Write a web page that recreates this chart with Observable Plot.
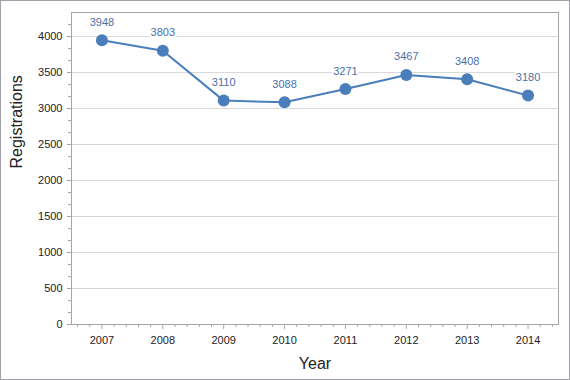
<!DOCTYPE html>
<html>
<head>
<meta charset="utf-8">
<script src="https://cdn.jsdelivr.net/npm/d3@7"></script>
<script src="https://cdn.jsdelivr.net/npm/@observablehq/plot@0.6"></script>
<style>
  body { margin: 0; background: #fff; }
  #chart { width: 570px; height: 380px; }
</style>
</head>
<body>
<div id="chart"></div>
<script>
const years = [2007, 2008, 2009, 2010, 2011, 2012, 2013, 2014];
const registrations = [3948, 3803, 3110, 3088, 3271, 3467, 3408, 3180];
const yTicks = [0, 500, 1000, 1500, 2000, 2500, 3000, 3500, 4000];

const data = years.map((y, i) => ({year: y, value: registrations[i]}));
const yMinor = d3.range(0, 4300, 500 / 3);
const xMinor = d3.range(2006.6, 2014.5, 0.2).filter(v => Math.abs(v - Math.round(v)) > 0.05);

const lineColor = "#4a7ebb";
const textColor = "#222";
const font = "Liberation Sans, Arial, sans-serif";

const plot = Plot.plot({
  width: 570,
  height: 380,
  marginLeft: 71,
  marginRight: 12,
  marginTop: 12,
  marginBottom: 56,
  style: {fontFamily: font, fontSize: "11px", color: textColor, background: "#fff"},
  x: {type: "linear", domain: [2006.5, 2014.5]},
  y: {domain: [0, 4334]},
  marks: [
    Plot.gridY(yTicks, {stroke: "#d9d9d9", strokeOpacity: 1}),
    Plot.frame({stroke: "#a6a6a6", anchor: "top"}),
    Plot.frame({stroke: "#a6a6a6", anchor: "right"}),
    Plot.axisY(yMinor, {tickSize: 3, stroke: "#a6a6a6", text: null, label: null}),
    Plot.axisY(yTicks, {tickSize: 4, tickPadding: 5, stroke: "#a6a6a6", fill: textColor, label: null, tickFormat: d => String(d)}),
    Plot.axisX(xMinor, {tickSize: 3, stroke: "#a6a6a6", text: null, label: null}),
    Plot.axisX(years, {tickSize: 5, tickPadding: 7, stroke: "#a6a6a6", fill: textColor, label: null, tickFormat: d => String(d)}),
    Plot.ruleY([0], {stroke: "#a6a6a6"}),
    Plot.ruleX([2006.5], {stroke: "#a6a6a6"}),
    Plot.line(data, {x: "year", y: "value", stroke: lineColor, strokeWidth: 2}),
    Plot.dot(data, {x: "year", y: "value", r: 6, fill: lineColor, stroke: "none"}),
    Plot.text(data, {x: "year", y: "value", text: d => String(d.value), dy: -18, fill: "#4a6fa8", stroke: "#fff", strokeWidth: 4, fontSize: 11}),
    Plot.text(["Registrations"], {frameAnchor: "left", dx: -55, rotate: -90, fontSize: 16, fill: textColor}),
    Plot.text(["Year"], {frameAnchor: "bottom", dy: 44, fontSize: 16, fill: textColor})
  ]
});

const svg = d3.select(plot);
svg.append("rect")
  .attr("x", 0.5).attr("y", 0.5)
  .attr("width", 569).attr("height", 379)
  .attr("fill", "none").attr("stroke", "#a0a0a8");

document.getElementById("chart").appendChild(plot);
</script>
</body>
</html>
